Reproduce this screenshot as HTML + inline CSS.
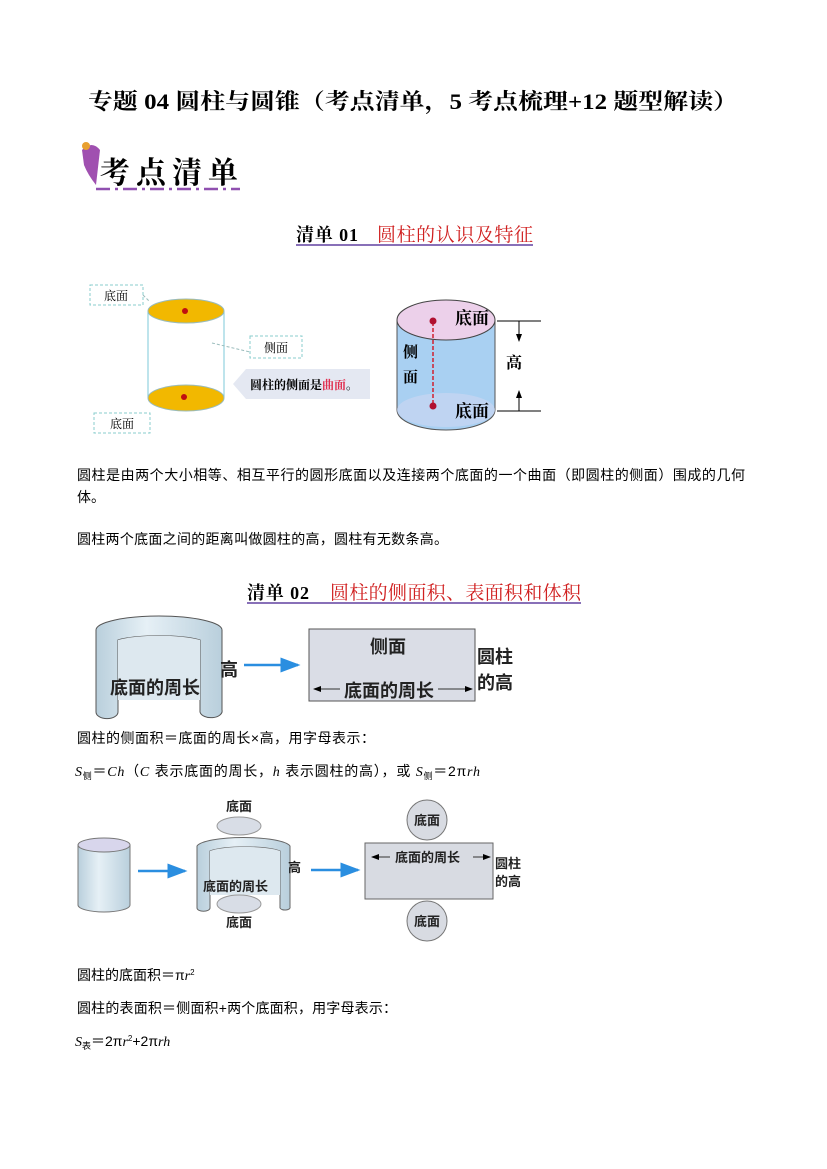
<!DOCTYPE html>
<html><head><meta charset="utf-8"><style>
body{margin:0;background:#fff;}
svg{display:block;}
.s{font-family:"Liberation Serif","Noto Serif CJK SC",serif;}
.k{font-family:"Liberation Sans","Noto Sans CJK SC",sans-serif;}
</style></head><body>
<svg width="827" height="1169" viewBox="0 0 827 1169" xmlns="http://www.w3.org/2000/svg">
<defs>
<linearGradient id="cyl" x1="0" x2="1"><stop offset="0" stop-color="#b9cfdc"/><stop offset="0.4" stop-color="#e6f0f6"/><stop offset="1" stop-color="#b9cfdc"/></linearGradient>
<marker id="ah" markerWidth="8" markerHeight="8" refX="7" refY="4" orient="auto"><path d="M0,1 L8,4 L0,7z" fill="#2a8ee0"/></marker>
<marker id="bk" markerWidth="8" markerHeight="8" refX="7" refY="4" orient="auto"><path d="M0,1 L8,4 L0,7z" fill="#000"/></marker>
</defs>
<text x="88" y="109" class="s" font-size="22" font-weight="bold" textLength="650" lengthAdjust="spacingAndGlyphs">专题 04  圆柱与圆锥（考点清单，5 考点梳理+12 题型解读）</text>
<!-- logo -->
<path d="M82,150 Q92,140 100,150 L96,185 Q88,175 84,165z" fill="#a050b0"/>
<circle cx="86" cy="146" r="4" fill="#e8a030"/>
<text x="100" y="183" class="s" font-size="30" font-weight="bold" textLength="138">考点清单</text>
<line x1="96" y1="189" x2="240" y2="189" stroke="#9050b0" stroke-width="2.5" stroke-dasharray="14,5,3,5"/>
<!-- heading 1 -->
<text x="296" y="241" class="s" font-size="18" font-weight="bold" textLength="62">清单 01</text>
<text x="377" y="241" class="s" font-size="19" fill="#d02020" textLength="156">圆柱的认识及特征</text>
<line x1="296" y1="245" x2="533" y2="245" stroke="#6040a0" stroke-width="1.5"/>
<!-- diagram 1 left -->
<line x1="148" y1="311" x2="148" y2="398" stroke="#7cc8d8"/>
<line x1="224" y1="311" x2="224" y2="398" stroke="#7cc8d8"/>
<ellipse cx="186" cy="311" rx="38" ry="12" fill="#f2b800" stroke="#9bb" />
<ellipse cx="186" cy="398" rx="38" ry="13" fill="#f2b800" stroke="#9bb"/>
<circle cx="185" cy="311" r="3" fill="#c01010"/><circle cx="184" cy="397" r="3" fill="#c01010"/>
<rect x="90" y="285" width="53" height="20" fill="none" stroke="#8cc" stroke-dasharray="3,2"/>
<text x="116" y="300" text-anchor="middle" class="s" font-size="12">底面</text>
<rect x="250" y="336" width="52" height="22" fill="none" stroke="#8cc" stroke-dasharray="3,2"/>
<text x="276" y="352" text-anchor="middle" class="s" font-size="12">侧面</text>
<rect x="94" y="413" width="56" height="20" fill="none" stroke="#8cc" stroke-dasharray="3,2"/>
<text x="122" y="428" text-anchor="middle" class="s" font-size="12">底面</text>
<line x1="143" y1="295" x2="150" y2="302" stroke="#9bb" stroke-dasharray="3,2"/>
<line x1="212" y1="343" x2="250" y2="352" stroke="#9bb" stroke-dasharray="3,2"/>
<path d="M246,369 L370,369 L370,399 L246,399 L233,384z" fill="#e4e8f2"/>
<text x="250" y="389" class="s" font-size="12" font-weight="bold">圆柱的侧面是<tspan fill="#e03050">曲面</tspan>。</text>
<!-- diagram 1 right -->
<path d="M397,320 L397,410 A49,20 0 0 0 495,410 L495,320z" fill="#a9d0f2" stroke="#555"/>
<ellipse cx="446" cy="410" rx="49" ry="17" fill="#c9d6f2" opacity="0.7"/>
<ellipse cx="446" cy="320" rx="49" ry="20" fill="#ecd0ea" stroke="#444"/>
<line x1="433" y1="322" x2="433" y2="406" stroke="#d02030" stroke-dasharray="4,2" stroke-width="1.5"/>
<circle cx="433" cy="321" r="3.5" fill="#b01030"/><circle cx="433" cy="406" r="3.5" fill="#b01030"/>
<text x="455" y="324" class="s" font-size="17" font-weight="bold">底面</text>
<text x="455" y="417" class="s" font-size="17" font-weight="bold">底面</text>
<text x="403" y="357" class="s" font-size="15" font-weight="bold">侧</text>
<text x="403" y="382" class="s" font-size="15" font-weight="bold">面</text>
<line x1="497" y1="321" x2="541" y2="321" stroke="#000"/>
<line x1="497" y1="411" x2="541" y2="411" stroke="#000"/>
<line x1="519" y1="321" x2="519" y2="341" stroke="#000" marker-end="url(#bk)"/>
<line x1="519" y1="411" x2="519" y2="391" stroke="#000" marker-end="url(#bk)"/>
<text x="506" y="368" class="s" font-size="16" font-weight="bold">高</text>
<!-- paragraphs -->
<g class="k" font-size="14">
<text x="77" y="480" textLength="668">圆柱是由两个大小相等、相互平行的圆形底面以及连接两个底面的一个曲面（即圆柱的侧面）围成的几何</text>
<text x="77" y="502">体。</text>
<text x="77" y="544" textLength="371">圆柱两个底面之间的距离叫做圆柱的高，圆柱有无数条高。</text>
</g>
<!-- heading 2 -->
<text x="247" y="599" class="s" font-size="18" font-weight="bold" textLength="62">清单 02</text>
<text x="330" y="599" class="s" font-size="19" fill="#d02020" textLength="251">圆柱的侧面积、表面积和体积</text>
<line x1="247" y1="603" x2="581" y2="603" stroke="#6040a0" stroke-width="1.5"/>
<!-- diagram 2 -->
<path d="M96,630 A63,14 0 0 1 222,630 L222,710 A5,3 0 0 1 200,712 L200,640 A50,10 0 0 0 118,640 L118,712 A5,3 0 0 1 96,712z" fill="url(#cyl)" stroke="#555"/>
<path d="M118,640 A50,10 0 0 1 200,640 L200,700 L118,700z" fill="#dde8ef"/>
<text x="110" y="694" class="k" font-size="18" font-weight="bold" fill="#222">底面的周长</text>
<text x="220" y="676" class="k" font-size="18" font-weight="bold" fill="#222">高</text>
<line x1="244" y1="665" x2="298" y2="665" stroke="#2a8ee0" stroke-width="2.5" marker-end="url(#ah)"/>
<rect x="309" y="629" width="166" height="72" fill="#dadde6" stroke="#555"/>
<text x="388" y="653" text-anchor="middle" class="k" font-size="18" font-weight="bold" fill="#222">侧面</text>
<text x="344" y="697" class="k" font-size="18" font-weight="bold" fill="#222">底面的周长</text>
<line x1="340" y1="689" x2="314" y2="689" stroke="#333" marker-end="url(#bk)"/>
<line x1="438" y1="689" x2="472" y2="689" stroke="#333" marker-end="url(#bk)"/>
<text x="477" y="663" class="k" font-size="18" font-weight="bold" fill="#222">圆柱</text>
<text x="477" y="689" class="k" font-size="18" font-weight="bold" fill="#222">的高</text>
<g class="k" font-size="14">
<text x="77" y="743" textLength="298">圆柱的侧面积＝底面的周长×高，用字母表示：</text>
<text x="75" y="776" textLength="405"><tspan font-family="Liberation Serif" font-style="italic">S</tspan><tspan font-size="9" dy="3">侧</tspan><tspan dy="-3">＝</tspan><tspan font-family="Liberation Serif" font-style="italic">Ch</tspan>（<tspan font-family="Liberation Serif" font-style="italic">C</tspan> 表示底面的周长，<tspan font-family="Liberation Serif" font-style="italic">h</tspan> 表示圆柱的高），或 <tspan font-family="Liberation Serif" font-style="italic">S</tspan><tspan font-size="9" dy="3">侧</tspan><tspan dy="-3">＝2π<tspan font-family="Liberation Serif" font-style="italic">rh</tspan></tspan></text>
</g>
<!-- diagram 3 -->
<path d="M78,845 L78,905 A26,7 0 0 0 130,905 L130,845z" fill="url(#cyl)" stroke="#777"/>
<ellipse cx="104" cy="845" rx="26" ry="7" fill="#d8d6ec" stroke="#777"/>
<line x1="138" y1="871" x2="185" y2="871" stroke="#2a8ee0" stroke-width="2.5" marker-end="url(#ah)"/>
<text x="239" y="811" text-anchor="middle" class="k" font-size="13" font-weight="bold" fill="#222">底面</text>
<ellipse cx="239" cy="826" rx="22" ry="9" fill="#d8dde6" stroke="#999"/>
<path d="M197,846 A47,10 0 0 1 290,846 L290,907 A4,2 0 0 1 280,908 L280,851 A40,8 0 0 0 210,851 L210,908 A4,2 0 0 1 197,908z" fill="url(#cyl)" stroke="#666"/>
<path d="M210,851 A40,8 0 0 1 280,851 L280,895 L210,895z" fill="#dde8ef"/>
<text x="203" y="891" class="k" font-size="13" font-weight="bold" fill="#222">底面的周长</text>
<ellipse cx="239" cy="904" rx="22" ry="9" fill="#d8dde6" stroke="#999"/>
<text x="239" y="927" text-anchor="middle" class="k" font-size="13" font-weight="bold" fill="#222">底面</text>
<text x="288" y="872" class="k" font-size="13" font-weight="bold" fill="#222">高</text>
<line x1="311" y1="870" x2="358" y2="870" stroke="#2a8ee0" stroke-width="2.5" marker-end="url(#ah)"/>
<rect x="365" y="843" width="128" height="56" fill="#d8dbe2" stroke="#666"/>
<circle cx="427" cy="820" r="20" fill="#d8dbe2" stroke="#777"/>
<circle cx="427" cy="921" r="20" fill="#d8dbe2" stroke="#777"/>
<text x="427" y="825" text-anchor="middle" class="k" font-size="13" font-weight="bold" fill="#222">底面</text>
<text x="427" y="926" text-anchor="middle" class="k" font-size="13" font-weight="bold" fill="#222">底面</text>
<text x="395" y="862" class="k" font-size="13" font-weight="bold" fill="#222">底面的周长</text>
<line x1="390" y1="857" x2="372" y2="857" stroke="#333" marker-end="url(#bk)"/>
<line x1="473" y1="857" x2="490" y2="857" stroke="#333" marker-end="url(#bk)"/>
<text x="495" y="868" class="k" font-size="13" font-weight="bold" fill="#222">圆柱</text>
<text x="495" y="886" class="k" font-size="13" font-weight="bold" fill="#222">的高</text>
<g class="k" font-size="14">
<text x="77" y="980">圆柱的底面积＝π<tspan font-family="Liberation Serif" font-style="italic">r</tspan><tspan font-size="8" dy="-5">2</tspan></text>
<text x="77" y="1013" textLength="320">圆柱的表面积＝侧面积+两个底面积，用字母表示：</text>
<text x="75" y="1046"><tspan font-family="Liberation Serif" font-style="italic">S</tspan><tspan font-size="9" dy="3">表</tspan><tspan dy="-3">＝2π<tspan font-family="Liberation Serif" font-style="italic">r</tspan></tspan><tspan font-size="8" dy="-5">2</tspan><tspan dy="5">+2π<tspan font-family="Liberation Serif" font-style="italic">rh</tspan></tspan></text>
</g>
</svg>
</body></html>
